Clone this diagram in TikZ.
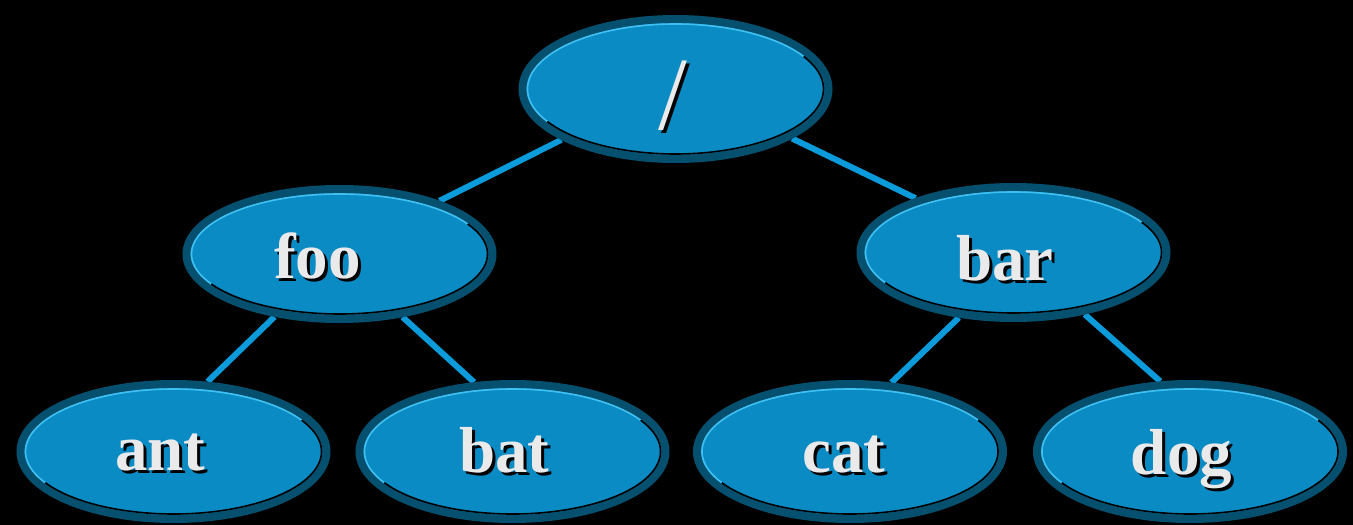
\documentclass[tikz,border=0pt]{standalone}
\usepackage{fontspec}
\setmainfont{Liberation Serif}
\usetikzlibrary{shapes.geometric,calc}
\definecolor{bfill}{HTML}{0A8BC4}
\definecolor{bring}{HTML}{06506F}
\definecolor{hilite}{HTML}{40C0F0}
\definecolor{edgec}{HTML}{0B9BDB}
\definecolor{txtc}{HTML}{EAEAEA}
\pgfdeclarelayer{back}
\pgfdeclarelayer{edges}
\pgfsetlayers{back,edges,main}
\tikzset{
  bubble/.style={ellipse, fill=bfill, draw=bring, line width=8pt,
    minimum width=306pt, minimum height=#1, inner sep=0pt},
  link/.style={draw=edgec, line width=6pt},
  hl/.style={draw=hilite, line width=1.6pt},
  lo/.style={draw=black, line width=1.6pt},
  lbl/.style={text=txtc, anchor=base, inner sep=0pt},
  lblshadow/.style={lbl, text=black},
}
\newcommand\bubblenode[5]{% name, x, y, min height, inner y radius
  \node[bubble=#4pt] (#1) at (#2,#3) {};
  \draw[hl] ($(#1.center)+(30:148pt and #5pt)$) arc[start angle=30, end angle=210, x radius=148pt, y radius=#5pt];
  \draw[lo] ($(#1.center)+(210:148pt and #5pt)$) arc[start angle=210, end angle=390, x radius=148pt, y radius=#5pt];
}
\newcommand\bubblelabel[6]{% name, x, y, text, font size, series
  \node[lblshadow, font=\fontsize{#5}{#5}\selectfont#6] (#1-s) at ($(#2,#3)+(3,3)$) {#4};
  \node[lbl, font=\fontsize{#5}{#5}\selectfont#6] (#1-t) at (#2,#3) {#4};
}
\begin{document}
\begin{tikzpicture}[x=1pt, y=-1pt]
  \begin{pgfonlayer}{back}
    \fill[black] (0,0) rectangle (1353,525);
  \end{pgfonlayer}
  \useasboundingbox (0,0) rectangle (1353,525);

  \bubblenode{root}{675.5}{89}{140}{65}
  \bubblenode{foo}{339.5}{254}{130}{60}
  \bubblenode{bar}{1013.5}{252.5}{131}{60.5}
  \bubblenode{ant}{173.5}{451.5}{135}{62.5}
  \bubblenode{bat}{512.5}{451.5}{135}{62.5}
  \bubblenode{cat}{850}{451.5}{135}{62.5}
  \bubblenode{dog}{1190}{451.5}{135}{62.5}

  \begin{pgfonlayer}{edges}
    \draw[link] (root.204) -- (foo.28);
    \draw[link] (root.337) -- (bar.151);
    \draw[link] (foo.224) -- (ant.64);
    \draw[link] (foo.315) -- (bat.119);
    \draw[link] (bar.230) -- (cat.59);
    \draw[link] (bar.319) -- (dog.113);
  \end{pgfonlayer}

  \bubblelabel{rootl}{673}{129}{/}{104}{}
  \bubblelabel{fool}{317.5}{278}{foo}{65}{\bfseries}
  \bubblelabel{barl}{1005}{280}{bar}{65}{\bfseries}
  \bubblelabel{antl}{160.5}{470}{ant}{65}{\bfseries}
  \bubblelabel{batl}{504.5}{472}{bat}{65}{\bfseries}
  \bubblelabel{catl}{844}{472}{cat}{65}{\bfseries}
  \bubblelabel{dogl}{1181.5}{474}{dog}{65}{\bfseries}
\end{tikzpicture}
\end{document}
